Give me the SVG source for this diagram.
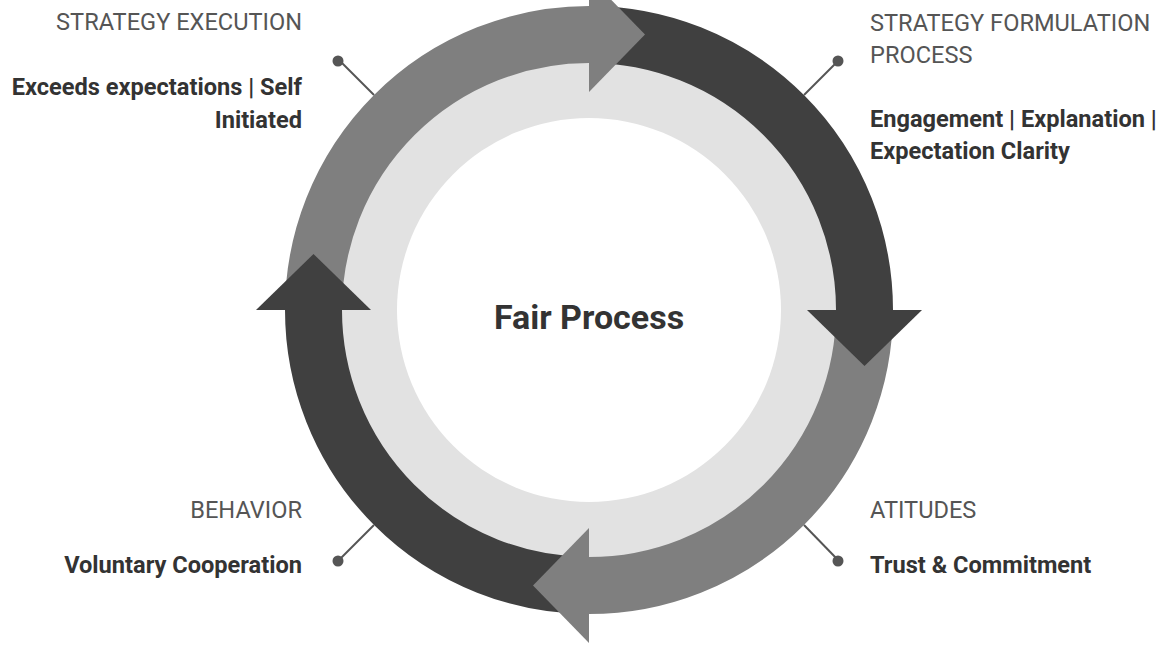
<svg xmlns="http://www.w3.org/2000/svg" width="1160" height="649" viewBox="0 0 1160 649">
  <style>
    .hd { font-family: Roboto, "Liberation Sans", sans-serif; font-size: 23.6px; font-weight: 400; fill: #555555; }
    .bd { font-family: Roboto, "Liberation Sans", sans-serif; font-size: 23.6px; font-weight: 700; fill: #333333; }
    .ctr { font-family: Roboto, "Liberation Sans", sans-serif; font-size: 34px; font-weight: 700; fill: #333333; }
    .band { fill: none; stroke-width: 57; stroke-linecap: butt; }
    .mid { stroke: #7f7f7f; }
    .dark { stroke: #404040; }
    .headmid { fill: #7f7f7f; }
    .headdark { fill: #404040; }
    .pin { stroke: #555555; stroke-width: 2; fill: none; }
    .dot { fill: #555555; }
  </style>
  <rect width="1160" height="649" fill="#ffffff"/>

  <g id="cycle">
    <circle cx="589" cy="310" r="250" fill="#e2e2e2"/>
    <circle cx="589" cy="310" r="192" fill="#ffffff"/>
    <path class="band mid" d="M313.5 310 A275.5 275.5 0 0 1 589 34.5"/>
    <path class="band dark" d="M589 34.5 A275.5 275.5 0 0 1 864.5 310"/>
    <path class="band mid" d="M864.5 310 A275.5 275.5 0 0 1 589 585.5"/>
    <path class="band dark" d="M589 585.5 A275.5 275.5 0 0 1 313.5 310"/>
    <polygon class="headmid" points="589,-23 645,34.5 589,92"/>
    <polygon class="headdark" points="922,310 864.5,366 807,310"/>
    <polygon class="headmid" points="589,643 533,585.5 589,528"/>
    <polygon class="headdark" points="256,310 313.5,254 371,310"/>
  </g>

  <g id="center">
    <text class="ctr" x="589" y="329" text-anchor="middle">Fair Process</text>
  </g>

  <g id="connectors">
    <line class="pin" x1="374" y1="95" x2="339" y2="60"/>
    <circle class="dot" cx="338" cy="61" r="5.5"/>
    <line class="pin" x1="804" y1="95" x2="838" y2="61"/>
    <circle class="dot" cx="838" cy="61" r="5.5"/>
    <line class="pin" x1="374" y1="525" x2="339" y2="560"/>
    <circle class="dot" cx="338" cy="561" r="5.5"/>
    <line class="pin" x1="804" y1="525" x2="838" y2="560"/>
    <circle class="dot" cx="838" cy="561" r="5.5"/>
  </g>

  <g id="strategy-execution">
    <text class="hd" x="302" y="30" text-anchor="end">STRATEGY EXECUTION</text>
    <text class="bd" x="302" y="95" text-anchor="end">Exceeds expectations | Self</text>
    <text class="bd" x="302" y="128" text-anchor="end">Initiated</text>
  </g>

  <g id="strategy-formulation">
    <text class="hd" x="870" y="31">STRATEGY FORMULATION</text>
    <text class="hd" x="870" y="63">PROCESS</text>
    <text class="bd" x="870" y="127">Engagement | Explanation |</text>
    <text class="bd" x="870" y="159">Expectation Clarity</text>
  </g>

  <g id="behavior">
    <text class="hd" x="302" y="518" text-anchor="end">BEHAVIOR</text>
    <text class="bd" x="302" y="573" text-anchor="end">Voluntary Cooperation</text>
  </g>

  <g id="attitudes">
    <text class="hd" x="870" y="518">ATITUDES</text>
    <text class="bd" x="870" y="573">Trust &amp; Commitment</text>
  </g>
</svg>
